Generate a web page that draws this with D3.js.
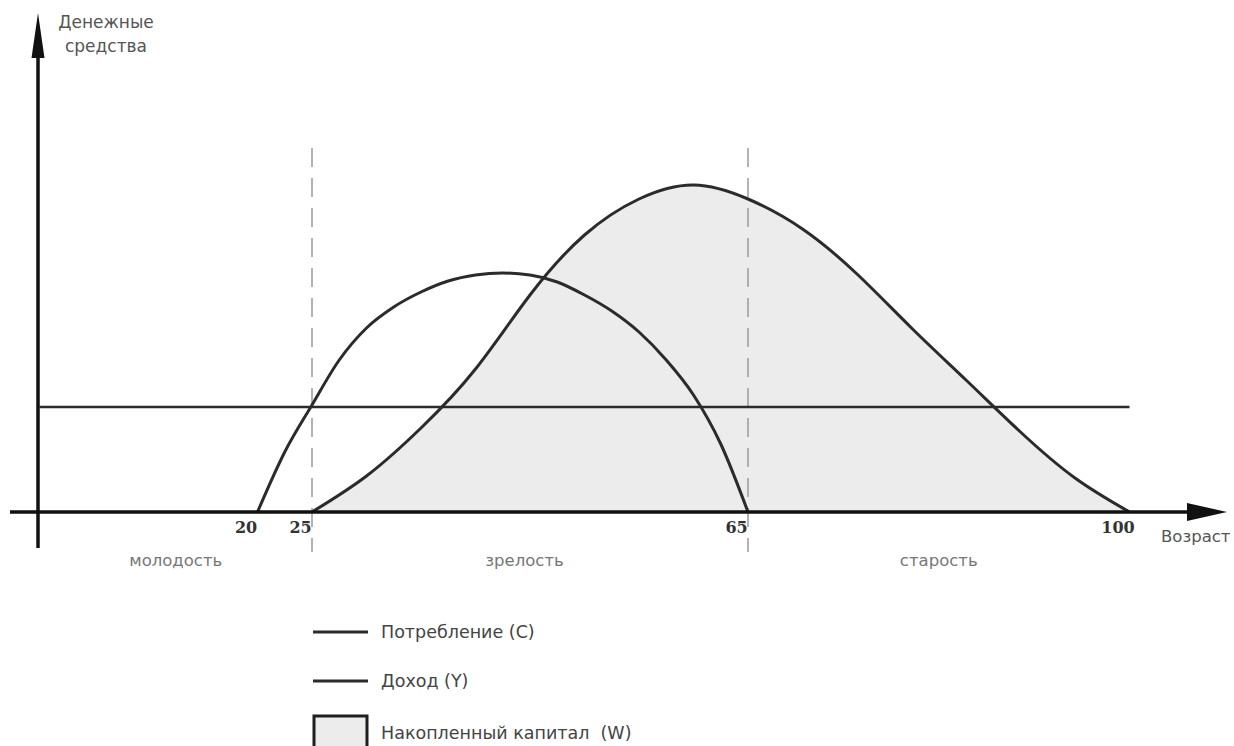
<!DOCTYPE html>
<html>
<head>
<meta charset="utf-8">
<script src="https://cdn.jsdelivr.net/npm/d3@7"></script>
<style>
  body { margin: 0; background: #fff; }
  svg text { font-family: "DejaVu Sans", Verdana, sans-serif; }
</style>
</head>
<body>
<div id="chart"></div>
<script>
// income curve, read every 2.5 years
const incomeAges   = [20, 22.5, 25, 27.5, 30, 32.5, 35, 37.5, 40, 42.5, 45, 47.5, 50, 52.5, 55, 57.5, 60, 62.5, 65];
const incomeValues = [0, 60, 107, 152, 184, 205, 220, 231, 237, 239, 237, 230, 217, 201, 180, 152, 117, 68, 0];

// accumulated wealth curve
const wealthAges   = [25, 30, 35, 40, 45, 50, 55, 60, 65, 70, 75, 80, 85, 90, 95, 100];
const wealthValues = [0, 36, 84, 143, 217, 277, 313, 327, 313, 283, 238, 184, 132, 80, 34, 0];

// consumption is flat over the whole life
const consumptionAges   = [0, 100];
const consumptionValues = [105, 105];

const tickAges = [20, 25, 65, 100];
const phaseBorders = [25, 65];
const phases = [
  {label: "молодость", from: 0, to: 25},
  {label: "зрелость", from: 25, to: 64},
  {label: "старость", from: 65, to: 100}
];
const legendItems = [
  {label: "Потребление (C)", type: "line"},
  {label: "Доход (Y)", type: "line"},
  {label: "Накопленный капитал  (W)", type: "area"}
];

const width = 1234, height = 746;
const ink = "#2b2b2b";

const svg = d3.select("#chart").append("svg")
    .attr("width", width)
    .attr("height", height);

const x = d3.scaleLinear().domain([0, 100]).range([39.5, 1129.5]);
const y = d3.scaleLinear().domain([0, 480]).range([512, 32]);

const zip = (a, b) => a.map((d, i) => ({age: d, v: b[i]}));
const income = zip(incomeAges, incomeValues);
const wealth = zip(wealthAges, wealthValues);
const consumption = zip(consumptionAges, consumptionValues);

const incomeLine = d3.line().x(d => x(d.age)).y(d => y(d.v)).curve(d3.curveMonotoneX);
const wealthLine = d3.line().x(d => x(d.age)).y(d => y(d.v)).curve(d3.curveNatural);
const area = d3.area().x(d => x(d.age)).y0(y(0)).y1(d => y(d.v)).curve(d3.curveNatural);

// wealth area
svg.append("path")
    .datum(wealth)
    .attr("d", area)
    .attr("fill", "#ececec");

// phase borders (dashed)
svg.selectAll(".border")
    .data(phaseBorders)
    .join("line")
    .attr("class", "border")
    .attr("x1", d => x(d)).attr("x2", d => x(d))
    .attr("y1", 148).attr("y2", 552)
    .attr("stroke", "#9a9a9a")
    .attr("stroke-width", 1.5)
    .attr("stroke-dasharray", "19,11");

// consumption
svg.append("path")
    .datum(consumption)
    .attr("d", d3.line().x(d => x(d.age)).y(d => y(d.v)))
    .attr("fill", "none")
    .attr("stroke", ink)
    .attr("stroke-width", 2.6);

// wealth outline
svg.append("path")
    .datum(wealth)
    .attr("d", wealthLine)
    .attr("fill", "none")
    .attr("stroke", ink)
    .attr("stroke-width", 3);

// income
svg.append("path")
    .datum(income)
    .attr("d", incomeLine)
    .attr("fill", "none")
    .attr("stroke", ink)
    .attr("stroke-width", 3);

// axes
svg.append("line")
    .attr("x1", 10).attr("x2", 1195)
    .attr("y1", y(0)).attr("y2", y(0))
    .attr("stroke", "#111").attr("stroke-width", 3.5);
svg.append("path")
    .attr("d", "M1227,512 L1187,503 L1187,521 Z")
    .attr("fill", "#111");

svg.append("line")
    .attr("x1", x(0) - 1.5).attr("x2", x(0) - 1.5)
    .attr("y1", 548).attr("y2", 40)
    .attr("stroke", "#111").attr("stroke-width", 3.5);
svg.append("path")
    .attr("d", "M38,13 L31.5,58 L44.5,58 Z")
    .attr("fill", "#111");

// tick labels
const xAxis = d3.axisBottom(x).tickValues(tickAges).tickSize(0).tickPadding(0);
const axG = svg.append("g").attr("transform", "translate(0," + y(0) + ")").call(xAxis);
axG.select(".domain").remove();
axG.selectAll("text")
    .attr("dx", -12)
    .attr("dy", 0)
    .attr("y", 21)
    .style("font-family", "'DejaVu Serif', serif")
    .style("font-size", "16px")
    .style("font-weight", "bold")
    .attr("fill", "#333");

// axis titles
svg.append("text")
    .attr("x", 1161).attr("y", 542)
    .style("font-size", "16.5px")
    .attr("fill", "#555")
    .text("Возраст");

const yTitle = svg.append("text")
    .attr("text-anchor", "middle")
    .style("font-size", "17px")
    .attr("fill", "#555");
yTitle.append("tspan").attr("x", 106).attr("y", 28).text("Денежные");
yTitle.append("tspan").attr("x", 106).attr("y", 52).text("средства");

// phase labels
svg.selectAll(".phase")
    .data(phases)
    .join("text")
    .attr("class", "phase")
    .attr("x", d => x((d.from + d.to) / 2))
    .attr("y", 566)
    .attr("text-anchor", "middle")
    .style("font-size", "16.5px")
    .attr("fill", "#777")
    .text(d => d.label);

// legend
const lg = svg.append("g");
const rowY = [632, 681, 733];
legendItems.forEach((d, i) => {
  if (d.type === "line") {
    lg.append("line")
      .attr("x1", 313).attr("x2", 368)
      .attr("y1", rowY[i]).attr("y2", rowY[i])
      .attr("stroke", ink).attr("stroke-width", 3);
  } else {
    lg.append("rect")
      .attr("x", 314).attr("y", 716)
      .attr("width", 53).attr("height", 34)
      .attr("fill", "#ececec")
      .attr("stroke", "#1e1e1e").attr("stroke-width", 3);
  }
  lg.append("text")
    .attr("x", 381).attr("y", rowY[i] + 6)
    .style("font-size", "17.5px")
    .style("white-space", "pre")
    .attr("fill", "#444")
    .text(d.label);
});
</script>
</body>
</html>
